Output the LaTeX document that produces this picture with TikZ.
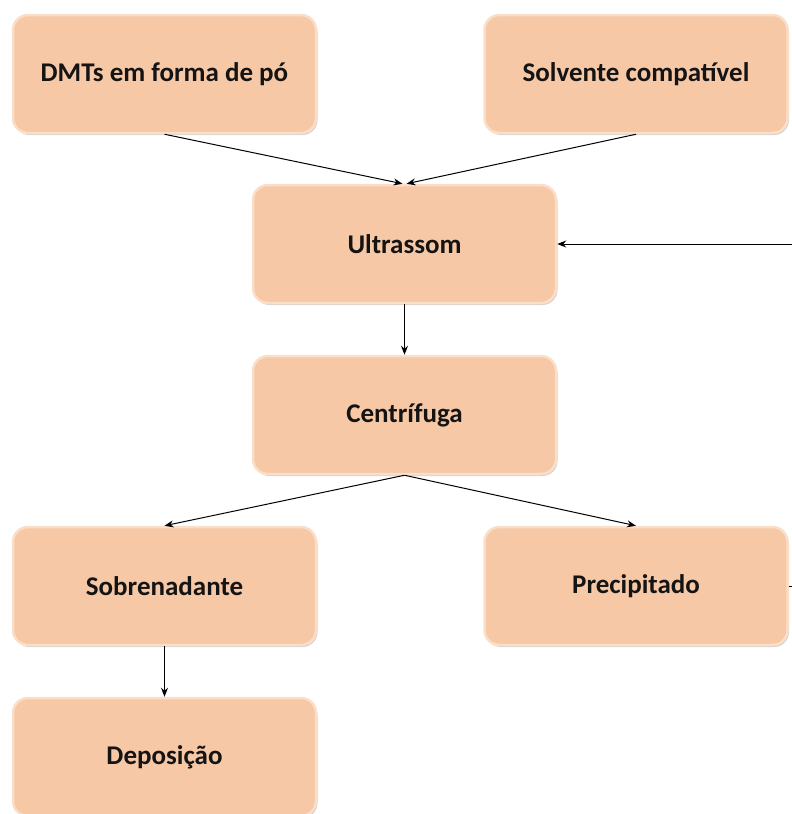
\documentclass[tikz,border=0pt]{standalone}
\usepackage{fontspec}
\setmainfont{Carlito}
\usetikzlibrary{arrows.meta,shadows}
\definecolor{peach}{RGB}{246,200,166}
\definecolor{peachlight}{RGB}{251,222,200}
\definecolor{txt}{RGB}{20,20,20}
\tikzset{
  procbox/.style={rectangle, rounded corners=15pt, minimum width=303pt, minimum height=118pt,
    fill=peach, draw=peachlight, line width=2.5pt,
    drop shadow={shadow xshift=1.5pt, shadow yshift=-2pt, opacity=0.35, fill=gray},
    font=\fontsize{27}{32}\selectfont\bfseries, text=txt, inner sep=0pt},
  conn/.style={line width=1pt, black, -{Stealth[length=9pt,width=7pt]}}
}
\begin{document}
\begin{tikzpicture}[x=1pt,y=1pt]
\useasboundingbox (0,0) rectangle (792,-814);
\clip (0,0) rectangle (792,-814);
\node[procbox] (dmt) at (164.5,-74) {DMTs em forma de pó};
\node[procbox] (solv) at (636,-74) {Solvente compatível};
\node[procbox] (ultra) at (404.5,-244) {Ultrassom};
\node[procbox] (cent) at (404.5,-415) {Centrífuga};
\node[procbox] (sobre) at (164.5,-586) {Sobrenadante};
\node[procbox] (prec) at (636,-586) {Precipitado};
\node[procbox] (depo) at (164.5,-757) {Deposição};
\draw[conn] (dmt.south) -- ([xshift=-2pt]ultra.north);
\draw[conn] (solv.south) -- ([xshift=2pt]ultra.north);
\draw[conn] (ultra.south) -- (cent.north);
\draw[conn] (cent.south) -- (sobre.north);
\draw[conn] (cent.south) -- (prec.north);
\draw[conn] (sobre.south) -- (depo.north);
\draw[conn] (prec.east) -- ++(30,0) |- (ultra.east);
\end{tikzpicture}
\end{document}
